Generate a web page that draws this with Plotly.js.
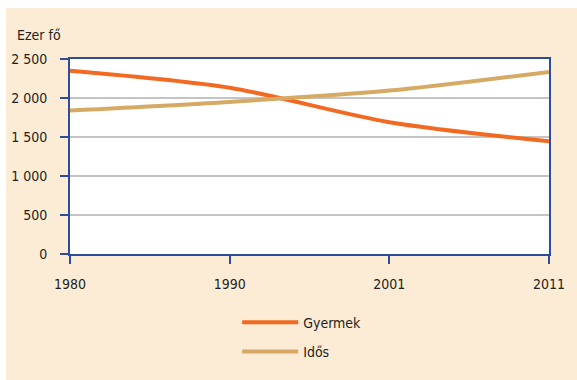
<!DOCTYPE html>
<html>
<head>
<meta charset="utf-8">
<script src="https://cdn.plot.ly/plotly-3.0.1.min.js"></script>
<style>
html,body{margin:0;padding:0;background:#ffffff;}
#chart{position:absolute;left:6px;top:8px;width:571px;height:372px;}
</style>
</head>
<body>
<div id="chart"></div>
<script>
var years = ['1980', '1990', '2001', '2011'];
var gyermek = [2350, 2132, 1690, 1445];
var idos = [1840, 1950, 2095, 2335];
var yTicks = [0, 500, 1000, 1500, 2000, 2500];

var FONT = '"Liberation Sans Narrow", "DejaVu Sans Condensed", "Roboto Condensed", sans-serif';
var BLUE = '#2f4b9c';

var traces = [
  {x: years, y: gyermek, name: 'Gyermek', type: 'scatter', mode: 'lines',
   line: {color: '#f26a21', width: 4, shape: 'spline', smoothing: 0.8}, legend: 'legend'},
  {x: years, y: idos, name: 'Idős', type: 'scatter', mode: 'lines',
   line: {color: '#d6aa64', width: 4, shape: 'spline', smoothing: 0.8}, legend: 'legend2'}
];

var layout = {
  width: 571, height: 372,
  paper_bgcolor: '#fdecd5',
  plot_bgcolor: '#ffffff',
  separators: ', ',
  margin: {l: 64, r: 28, t: 51, b: 122},
  font: {family: FONT, size: 14, color: '#231f20'},
  showlegend: true,
  xaxis: {
    type: 'category', range: [0, 3],
    showline: true, linecolor: BLUE, linewidth: 2, mirror: true,
    ticks: 'outside', ticklen: 8, tickwidth: 2, tickcolor: BLUE,
    showgrid: false, zeroline: false,
    ticklabelstandoff: 8,
    tickfont: {family: FONT, size: 14, color: '#231f20'}
  },
  yaxis: {
    range: [0, 2500], tickvals: yTicks, separatethousands: true,
    showline: true, linecolor: BLUE, linewidth: 2, mirror: true,
    ticks: 'outside', ticklen: 8, tickwidth: 2, tickcolor: BLUE,
    showgrid: true, gridcolor: '#c4c4c4', gridwidth: 1.5, zeroline: false,
    ticklabelstandoff: 10,
    tickfont: {family: FONT, size: 14, color: '#231f20'}
  },
  legend: {x: 0.349, xanchor: 'left', y: -0.27, yanchor: 'top', bgcolor: 'rgba(0,0,0,0)',
           font: {family: FONT, size: 14, color: '#231f20'}, itemwidth: 56},
  legend2: {x: 0.349, xanchor: 'left', y: -0.42, yanchor: 'top', bgcolor: 'rgba(0,0,0,0)',
           font: {family: FONT, size: 14, color: '#231f20'}, itemwidth: 56},
  annotations: [
    {text: 'Ezer fő', xref: 'paper', yref: 'paper', x: -0.115, y: 1.07, xanchor: 'left', yanchor: 'bottom',
     showarrow: false, font: {family: FONT, size: 14, color: '#231f20'}}
  ]
};

Plotly.newPlot('chart', traces, layout, {displayModeBar: false, staticPlot: true});
</script>
</body>
</html>
